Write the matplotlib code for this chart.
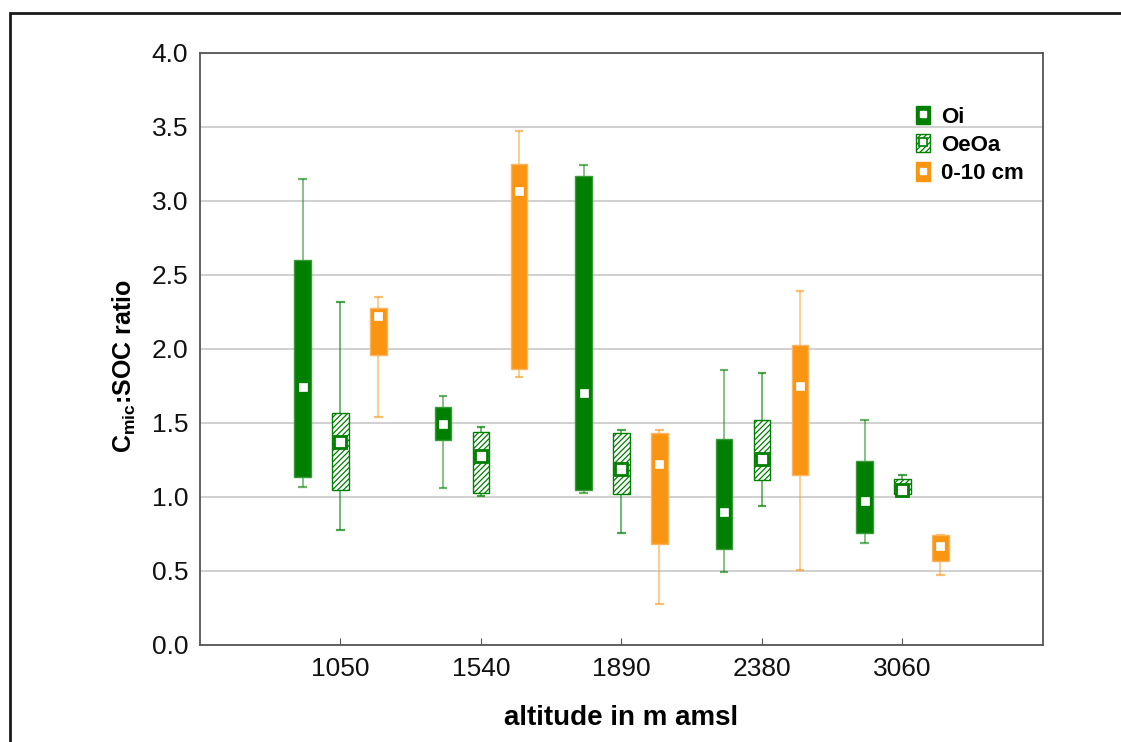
import matplotlib
matplotlib.use("Agg")
import matplotlib.pyplot as plt
from matplotlib.patches import Patch, Rectangle
from matplotlib.lines import Line2D
from matplotlib.legend_handler import HandlerTuple
import numpy as np

plt.rcParams['font.family'] = ['Liberation Sans', 'DejaVu Sans']
plt.rcParams['mathtext.fontset'] = 'custom'
plt.rcParams['mathtext.rm'] = 'Liberation Sans:bold'
plt.rcParams['mathtext.bf'] = 'Liberation Sans:bold'
plt.rcParams['hatch.linewidth'] = 0.9

# Altitude classes
altitudes = ['1050', '1540', '1890', '2380', '3060']
series = ['Oi', 'OeOa', '0-10 cm']

# Cmic:SOC ratio statistics per horizon: median, box (q1, q3), whiskers (min, max)
oi_med = [1.74, 1.49, 1.70, 0.90, 0.97]
oi_q1 = [1.135, 1.385, 1.05, 0.65, 0.755]
oi_q3 = [2.60, 1.61, 3.17, 1.39, 1.24]
oi_lo = [1.07, 1.06, 1.03, 0.49, 0.69]
oi_hi = [3.15, 1.68, 3.24, 1.86, 1.52]

oe_med = [1.37, 1.28, 1.19, 1.26, 1.05]
oe_q1 = [1.05, 1.03, 1.02, 1.115, 1.02]
oe_q3 = [1.57, 1.44, 1.43, 1.52, 1.12]
oe_lo = [0.78, 1.01, 0.76, 0.94, 1.01]
oe_hi = [2.32, 1.47, 1.45, 1.84, 1.15]

mn_med = [2.22, 3.07, 1.22, 1.75, 0.67]
mn_q1 = [1.96, 1.865, 0.68, 1.15, 0.57]
mn_q3 = [2.28, 3.25, 1.43, 2.03, 0.74]
mn_lo = [1.54, 1.81, 0.28, 0.51, 0.47]
mn_hi = [2.35, 3.47, 1.45, 2.39, 0.74]

GREEN = '#007F00'
ORANGE = '#FA9512'

fig = plt.figure(figsize=(11.21, 7.42), dpi=100)
ax = fig.add_axes([200 / 1121, 1 - 645 / 742, 843 / 1121, 592 / 742])

# outer frame around the whole figure
fig.patches.append(Rectangle((10 / 1121, -0.05), 1.2, 1 - 13 / 742 + 0.05,
                             transform=fig.transFigure, fill=False,
                             edgecolor='#1a1a1a', linewidth=2.0, zorder=0))

x = np.arange(1, len(altitudes) + 1)
offset = 0.27
width = 0.118
cap = 0.062

groups = [
    (oi_med, oi_q1, oi_q3, oi_lo, oi_hi, -offset,
     dict(facecolor=GREEN, edgecolor='#3a9a3a', hatch=None), GREEN, 0.6),
    (oe_med, oe_q1, oe_q3, oe_lo, oe_hi, 0.0,
     dict(facecolor='white', edgecolor=GREEN, hatch='//////'), GREEN, 0.7),
    (mn_med, mn_q1, mn_q3, mn_lo, mn_hi, offset,
     dict(facecolor=ORANGE, edgecolor='#FBB560', hatch=None), ORANGE, 0.6),
]

for med, q1, q3, lo, hi, dx, boxstyle, col, walpha in groups:
    pos = x + dx
    med = np.array(med); q1 = np.array(q1); q3 = np.array(q3)
    lo = np.array(lo); hi = np.array(hi)
    # whiskers and caps
    ax.vlines(pos, lo, q1, color=col, linewidth=1.1, alpha=walpha, zorder=2)
    ax.vlines(pos, q3, hi, color=col, linewidth=1.1, alpha=walpha, zorder=2)
    ax.hlines(lo, pos - cap / 2, pos + cap / 2, color=col, linewidth=1.6, alpha=walpha, zorder=2)
    ax.hlines(hi, pos - cap / 2, pos + cap / 2, color=col, linewidth=1.6, alpha=walpha, zorder=2)
    # box
    ax.bar(pos, q3 - q1, bottom=q1, width=width, linewidth=1.0, zorder=3, **boxstyle)
    # median marker
    if boxstyle['hatch']:
        ax.plot(pos, med, 's', markersize=8, markerfacecolor='white',
                markeredgecolor=GREEN, markeredgewidth=2, zorder=4, linestyle='none')
    else:
        ax.plot(pos, med, 's', markersize=5.5, markerfacecolor='white',
                markeredgecolor='white', markeredgewidth=0.5, zorder=4, linestyle='none')

ax.set_xlim(0, 6)
ax.set_ylim(0, 4.0)
ax.set_yticks(np.arange(0, 4.01, 0.5))
ax.set_yticklabels([f'{v:.1f}' for v in np.arange(0, 4.01, 0.5)])
ax.set_xticks(x)
ax.set_xticklabels(altitudes)
ax.yaxis.grid(True, color='#C8C8C8', linewidth=1.2)
ax.set_axisbelow(True)
ax.tick_params(axis='y', length=0, pad=8.5, labelsize=19, labelcolor='#111111')
ax.tick_params(axis='x', direction='in', length=5, width=0.8, color='#555555',
               pad=9, labelsize=19, labelcolor='#111111')
for s in ax.spines.values():
    s.set_color('#555555')
    s.set_linewidth(1.3)

ax.set_xlabel('altitude in m amsl', fontsize=20, fontweight='bold')
ax.xaxis.set_label_coords(0.5, (645 - 705) / 592)
ax.set_ylabel(r'C$_{\mathrm{mic}}$:SOC ratio', fontsize=18, fontweight='bold')
ax.yaxis.set_label_coords((138 - 200) / 843, (645 - 366) / 592)

# legend
h_oi = (Patch(facecolor=GREEN, edgecolor=GREEN),
        Line2D([], [], marker='s', markersize=5, color='white', linestyle='none'))
h_oe = (Patch(facecolor='white', edgecolor=GREEN, hatch='//////'),
        Line2D([], [], marker='s', markersize=6, markerfacecolor='white',
               markeredgecolor=GREEN, markeredgewidth=1.2, linestyle='none'))
h_mn = (Patch(facecolor=ORANGE, edgecolor=ORANGE),
        Line2D([], [], marker='s', markersize=5, color='white', linestyle='none'))
leg = ax.legend([h_oi, h_oe, h_mn], series, handler_map={tuple: HandlerTuple(ndivide=1)},
                loc='upper left', bbox_to_anchor=(707 / 843, 1 - 44 / 592),
                frameon=False, prop={'weight': 'bold', 'size': 16},
                handlelength=0.65, handleheight=0.9, handletextpad=0.5,
                labelspacing=0.28, borderaxespad=0)

fig.savefig('out.png', dpi=100)
